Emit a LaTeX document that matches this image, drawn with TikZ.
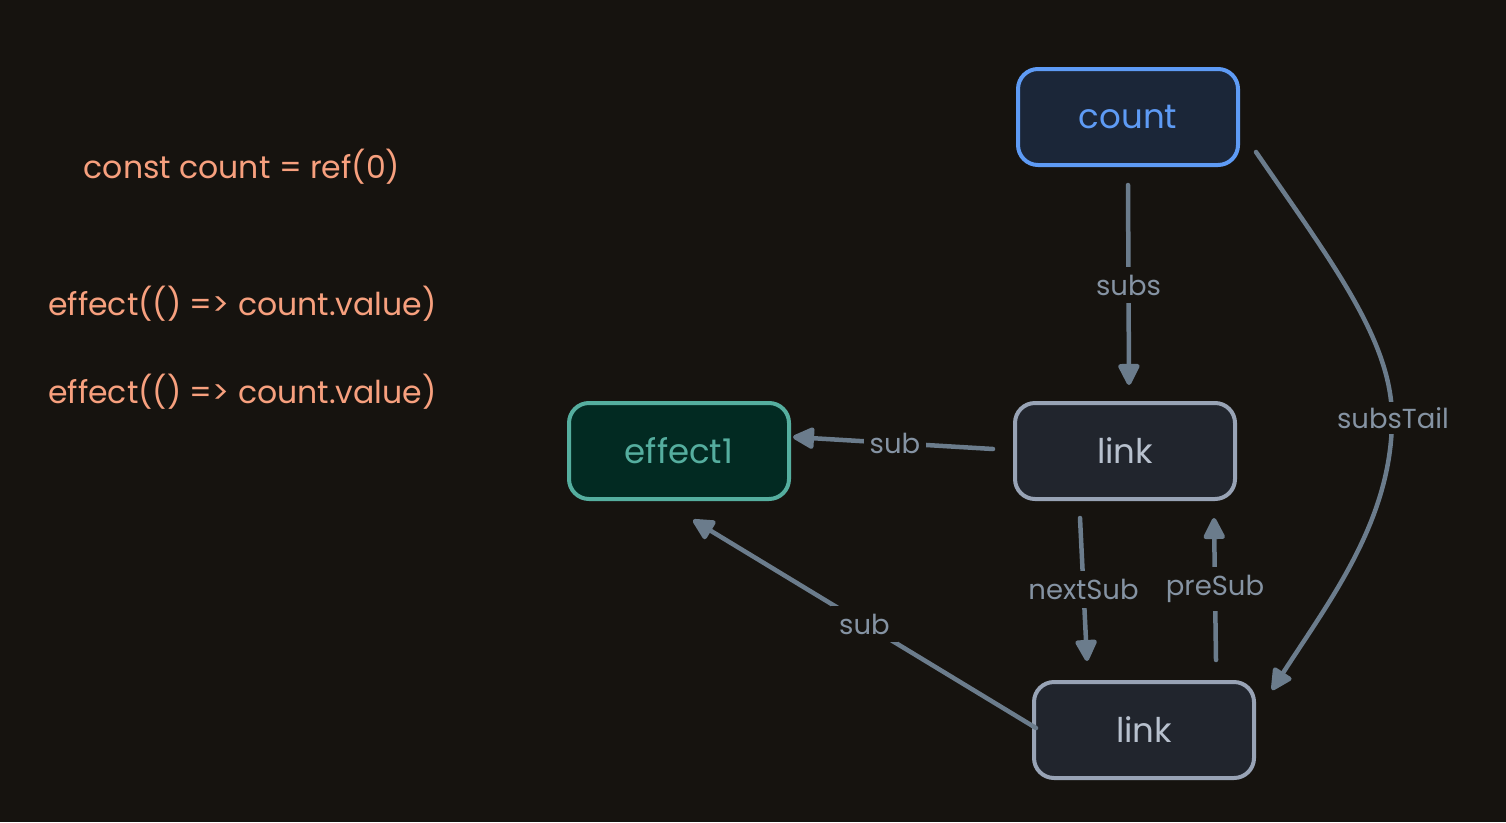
\documentclass[tikz,border=0pt]{standalone}
\usepackage{fontspec}
\setmainfont{Poppins}
\usetikzlibrary{arrows.meta}
\definecolor{bg}{HTML}{16130F}
\definecolor{codec}{HTML}{F7A07E}
\definecolor{edgec}{HTML}{6B7C8C}
\definecolor{bluec}{HTML}{5E9BF5}
\definecolor{bluef}{HTML}{1B2638}
\definecolor{grayc}{HTML}{98A3B5}
\definecolor{grayf}{HTML}{21252D}
\definecolor{graytxt}{HTML}{B8C1CE}
\definecolor{tealc}{HTML}{55AE9F}
\definecolor{tealf}{HTML}{022A22}
\definecolor{labelc}{HTML}{8593A3}
\tikzset{
  box/.style={rounded corners=20pt, line width=4pt, minimum width=220pt, minimum height=96pt, inner sep=0pt, font=\fontsize{34}{40}\selectfont},
  countbox/.style={box, draw=bluec, fill=bluef, text=bluec},
  linkbox/.style={box, draw=grayc, fill=grayf, text=graytxt},
  effbox/.style={box, draw=tealc, fill=tealf, text=tealc},
  code/.style={text=codec, font=\fontsize{31.5}{38}\selectfont, inner sep=0pt},
  edge/.style={draw=edgec, line width=4.5pt, line cap=round, -{Triangle[length=24pt,width=23pt,round]}},
  lbl/.style={fill=bg, text=labelc, font=\fontsize{27.5}{33}\selectfont, inner sep=8pt}
}
\begin{document}
\begin{tikzpicture}[x=1pt,y=-1pt]
\fill[bg] (0,0) rectangle (1506,822);
\useasboundingbox (0,0) rectangle (1506,822);

\node[code] (c1) at (242,167) {const count = ref(0)};
\node[code, anchor=west] (c2) at (48,304) {effect(() => count.value)};
\node[code, anchor=west] (c3) at (48,392) {effect(() => count.value)};

\node[countbox] (count) at (1128,117) {count};
\node[linkbox] (link1) at (1125,451) {link};
\node[linkbox] (link2) at (1144,730) {link};
\node[effbox] (eff) at (679,451) {effect1};

\draw[edge] ([yshift=-18pt]count.south) -- node[lbl] {subs} ([xshift=4pt,yshift=16pt]link1.north);
\draw[edge] ([xshift=-20pt,yshift=2pt]link1.west) -- node[lbl, inner sep=6pt, pos=0.49] {sub} ([xshift=2pt,yshift=14pt]eff.east);
\draw[edge] ([xshift=-45pt,yshift=-17pt]link1.south) -- node[lbl] {nextSub} ([xshift=-57pt,yshift=19pt]link2.north);
\draw[edge] ([xshift=72pt,yshift=20pt]link2.north) -- node[lbl] {preSub} ([xshift=89pt,yshift=-17pt]link1.south);
\draw[edge] ([xshift=4pt,yshift=2pt]link2.west) -- node[lbl, pos=0.5] {sub} ([xshift=14pt,yshift=-19pt]eff.south);
\draw[edge] ([xshift=16pt,yshift=-35pt]count.east)
  .. controls (1330,260) and (1392,340) .. (1392,418)
  .. controls (1392,520) and (1330,600) .. ([xshift=16pt,yshift=-10pt]link2.north east);
\node[lbl, inner sep=5pt] (st) at (1393,418) {subsTail};
\end{tikzpicture}
\end{document}
